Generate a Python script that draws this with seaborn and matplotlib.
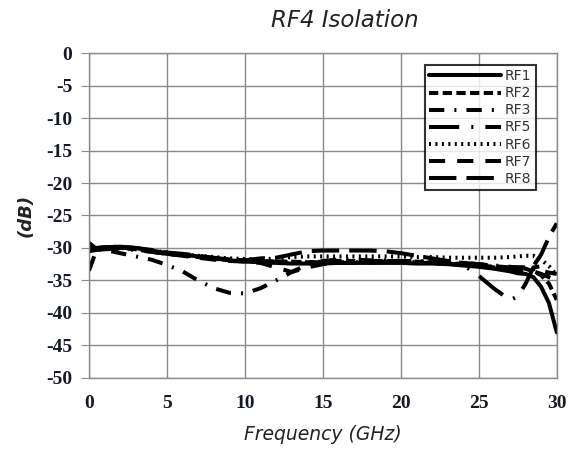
import numpy as np
import pandas as pd
import seaborn as sns
import matplotlib
matplotlib.use("Agg")
import matplotlib.pyplot as plt

# frequency points (GHz)
freq = [0, 0.5, 1, 2, 3, 4, 5, 6, 7, 8, 9, 10, 11, 12, 13, 14, 15, 16, 17, 18,
        19, 20, 21, 22, 23, 24, 25, 26, 27, 27.5, 28, 28.5, 29, 29.5, 30]

rf1 = [-30.0, -30.0, -29.9, -29.8, -30.0, -30.4, -30.8, -31.0, -31.3, -31.6, -31.9, -32.1,
       -32.2, -32.3, -32.4, -32.4, -32.4, -32.3, -32.3, -32.3, -32.3, -32.3, -32.4, -32.4,
       -32.5, -32.7, -32.9, -33.2, -33.6, -33.9, -34.0, -34.5, -36.0, -38.5, -43.0]
rf2 = [-29.2, -30.2, -30.1, -30.0, -30.2, -30.6, -30.9, -31.1, -31.4, -31.7, -31.8, -31.9,
       -32.0, -32.1, -32.1, -32.2, -32.1, -32.0, -32.0, -32.0, -32.0, -32.0, -32.1, -32.2,
       -32.3, -32.5, -32.7, -32.9, -33.0, -33.1, -33.2, -33.6, -34.2, -35.5, -38.0]
rf3 = [-33.5, -30.2, -30.3, -30.8, -31.3, -31.8, -32.6, -33.6, -35.0, -36.2, -36.9, -37.0,
       -36.2, -35.0, -33.7, -32.6, -32.0, -31.8, -31.8, -31.9, -31.9, -32.0, -32.0, -32.1,
       -32.2, -32.3, -32.5, -32.7, -32.9, -33.0, -33.0, -33.2, -33.5, -33.8, -34.0]
rf5 = [-30.5, -30.3, -30.2, -30.1, -30.3, -30.6, -30.9, -31.2, -31.4, -31.6, -31.8, -32.0,
       -32.1, -32.1, -32.2, -32.2, -32.2, -32.2, -32.2, -32.2, -32.1, -32.1, -32.2, -32.3,
       -32.4, -32.6, -34.3, -36.3, -38.0, -37.5, -35.5, -33.0, -32.8, -34.0, -35.0]
rf6 = [-30.2, -30.1, -30.0, -29.9, -30.1, -30.4, -30.7, -31.0, -31.2, -31.4, -31.6, -31.7,
       -31.8, -31.6, -31.4, -31.3, -31.3, -31.3, -31.3, -31.3, -31.3, -31.3, -31.4, -31.4,
       -31.5, -31.5, -31.5, -31.5, -31.4, -31.3, -31.2, -31.2, -31.8, -32.8, -34.2]
rf7 = [-29.5, -30.1, -30.0, -29.9, -30.2, -30.5, -30.9, -31.2, -31.5, -31.8, -32.0, -32.1,
       -32.3, -33.0, -33.7, -33.0, -32.5, -32.3, -32.3, -32.2, -32.2, -32.2, -32.3, -32.3,
       -32.4, -32.6, -32.8, -33.0, -33.3, -33.4, -33.4, -33.6, -34.0, -34.5, -35.0]
rf8 = [-30.3, -30.0, -29.9, -29.8, -30.0, -30.3, -30.7, -30.9, -31.2, -31.5, -31.8, -31.9,
       -31.6, -31.5, -31.0, -30.5, -30.4, -30.4, -30.4, -30.4, -30.5, -30.8, -31.2, -31.6,
       -32.0, -32.3, -32.5, -32.8, -33.0, -33.0, -33.0, -32.8, -31.0, -28.3, -26.2]

names = ["RF1", "RF2", "RF3", "RF5", "RF6", "RF7", "RF8"]
series = [rf1, rf2, rf3, rf5, rf6, rf7, rf8]

df = pd.concat([pd.DataFrame({"freq": freq, "db": s, "port": n})
                for n, s in zip(names, series)], ignore_index=True)

dash_map = {
    "RF1": "",
    "RF2": (2.3, 1.1),
    "RF3": (3.8, 2.5, 0.5, 2.5),
    "RF5": (7.5, 3.0, 0.5, 3.0),
    "RF6": (0.5, 1.1),
    "RF7": (4.0, 3.0),
    "RF8": (6.8, 2.5),
}

sns.set_style("white")
fig, ax = plt.subplots(figsize=(5.74, 4.58), dpi=100)
fig.subplots_adjust(left=0.155, right=0.970, top=0.884, bottom=0.175)

sns.lineplot(data=df, x="freq", y="db", style="port", dashes=dash_map,
             color="black", linewidth=2.9, ax=ax, legend=True)

grid_c = "#8a8a8a"
ax.set_xlim(0, 30)
ax.set_ylim(-50, 0)
ax.set_xticks(np.arange(0, 31, 5))
ax.set_yticks(np.arange(-50, 1, 5))
ax.grid(True, color=grid_c, linewidth=1)
for sp in ax.spines.values():
    sp.set_color(grid_c)
    sp.set_linewidth(1)

tick_font = dict(family="Liberation Serif", weight="bold", size=14)
ax.set_xticklabels([str(v) for v in range(0, 31, 5)], fontdict=tick_font, color="#151a24")
ax.set_yticklabels([str(v) for v in range(-50, 1, 5)], fontdict=tick_font, color="#151a24")
ax.tick_params(axis="y", length=6, color=grid_c, pad=6, left=True)
ax.tick_params(axis="x", length=0, pad=12)

ax.set_xlabel("Frequency (GHz)", fontsize=13.5, style="italic", color="#222", labelpad=10)
ax.set_ylabel("(dB)", fontsize=13, style="italic", weight="bold", color="#222", labelpad=8)
fig.text(0.60, 0.955, "RF4 Isolation", ha="center", va="center",
         fontsize=16.5, style="italic", color="#222")

handles, labels = ax.get_legend_handles_labels()
leg = ax.legend(handles, labels, loc="upper right", bbox_to_anchor=(0.955, 0.963),
                fontsize=10, handlelength=5.2, handletextpad=0.3, labelspacing=0.22,
                frameon=True, fancybox=False, borderpad=0.3, borderaxespad=0)
leg.get_frame().set_edgecolor("black")
leg.get_frame().set_linewidth(1.5)
for t in leg.get_texts():
    t.set_color("#333")

fig.savefig("out.png", dpi=100)
